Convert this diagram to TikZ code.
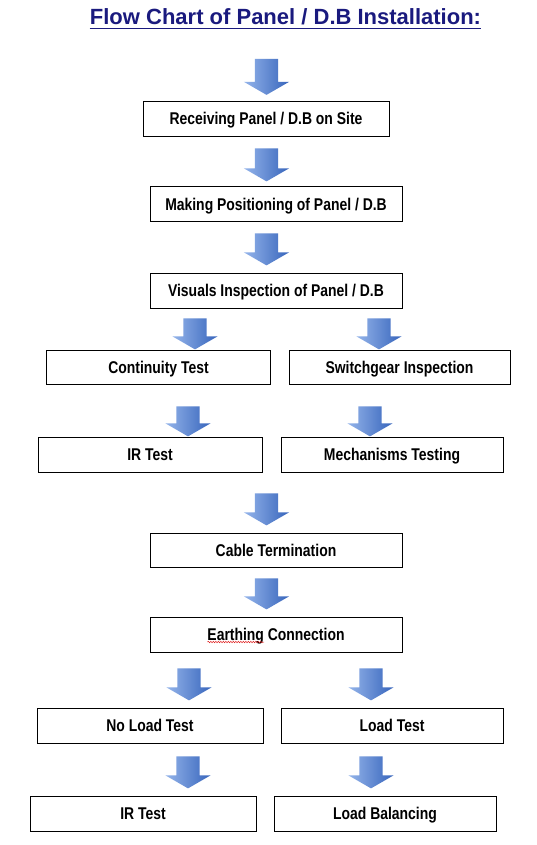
\documentclass[tikz,border=0pt]{standalone}
\usepackage{fontspec}
\setmainfont{Liberation Sans}
\newfontfamily\narrowfont{Liberation Sans}[FakeStretch=0.82]
\usetikzlibrary{shapes.arrows, decorations.pathmorphing}
\definecolor{titleblue}{HTML}{1A1A7E}
\definecolor{arrowtop}{HTML}{93B4EA}
\definecolor{arrowbot}{HTML}{3865BC}
\definecolor{spellred}{HTML}{E02424}

\begin{document}
\begin{tikzpicture}[x=1pt, y=-1pt,
    every node/.style={font=\fontsize{17}{20}\selectfont\narrowfont\bfseries},
    heading/.style={font=\fontsize{22}{26}\selectfont\bfseries, text=titleblue, inner sep=0pt},
    stepbox/.style={rectangle, draw=black, fill=white, line width=0.9pt,
                    minimum height=35pt, inner sep=0pt,
                    text height=12.4pt, text depth=0.4pt},
    wide/.style={stepbox, minimum width=252pt},
    half/.style={stepbox, minimum width=224pt},
    blockarrow/.style={single arrow, rotate=-90, draw=none,
                       inner xsep=0pt, inner ysep=11.5pt,
                       single arrow head extend=11pt, single arrow tip angle=120,
                       minimum height=31pt, left color=arrowtop, right color=arrowbot},
]
\path[use as bounding box, fill=white] (0,0) rectangle (537,845);

% ================================================== title
\node[heading, anchor=base] (title) at (285.5,24.5) {Flow Chart of Panel / D.B Installation:};
\draw[titleblue, line width=1.4pt] ([yshift=-4pt]title.base west) -- ([yshift=-4pt]title.base east);

% ================================================== the single column
\node[blockarrow, minimum height=36pt] (a0) at (266.5,73.5) {};
\node[stepbox, minimum width=246pt] (b1) at (266,118.5) {Receiving Panel / D.B on Site};
\node[blockarrow, minimum height=33pt] (a1) at (266.5,161.5) {};
\node[wide] (b2) at (276,204) {Making Positioning of Panel / D.B};
\node[blockarrow, minimum height=32pt] (a2) at (266.5,246) {};
\node[wide] (b3) at (276,290.5) {Visuals Inspection of Panel / D.B};

% ================================================== first split
\node[blockarrow] (a3l) at (195,330.5) {};
\node[blockarrow] (a3r) at (379,330.5) {};
\node[half, minimum height=34pt] (b4l) at (158.5,367.5) {Continuity Test};
\node[half, minimum height=34pt, minimum width=221pt] (b4r) at (399.5,367.5) {Switchgear Inspection};
\node[blockarrow, minimum height=30pt] (a4l) at (188,418) {};
\node[blockarrow, minimum height=30pt] (a4r) at (370,418) {};
\node[half] (b5l) at (150,454.5) {IR Test};
\node[half, minimum width=222pt] (b5r) at (392,454.5) {Mechanisms Testing};

% ================================================== back to one column
\node[blockarrow, minimum height=32pt] (a5) at (266.5,506) {};
\node[wide, minimum height=34pt] (b6) at (276,550) {Cable Termination};
\node[blockarrow] (a6) at (266.5,590.5) {};
\node[wide] (b7) at (276,634.5) {Earthing Connection};
\draw[spellred, line width=0.5pt, decorate,
      decoration={snake, amplitude=0.7pt, segment length=2.5pt}]
     ([xshift=-68.5pt, yshift=-7.5pt]b7.center) -- ++(56.5,0);

% ================================================== second split
\node[blockarrow, minimum height=32pt] (a7l) at (189,681) {};
\node[blockarrow, minimum height=32pt] (a7r) at (371,681) {};
\node[half, minimum width=226pt] (b8l) at (150,725.5) {No Load Test};
\node[half, minimum width=222pt] (b8r) at (392,725.5) {Load Test};
\node[blockarrow, minimum height=32pt] (a8l) at (188,769) {};
\node[blockarrow, minimum height=32pt] (a8r) at (371,769) {};
\node[half, minimum width=226pt] (b9l) at (143,813.5) {IR Test};
\node[half, minimum width=222pt] (b9r) at (385,813.5) {Load Balancing};

\end{tikzpicture}
\end{document}
